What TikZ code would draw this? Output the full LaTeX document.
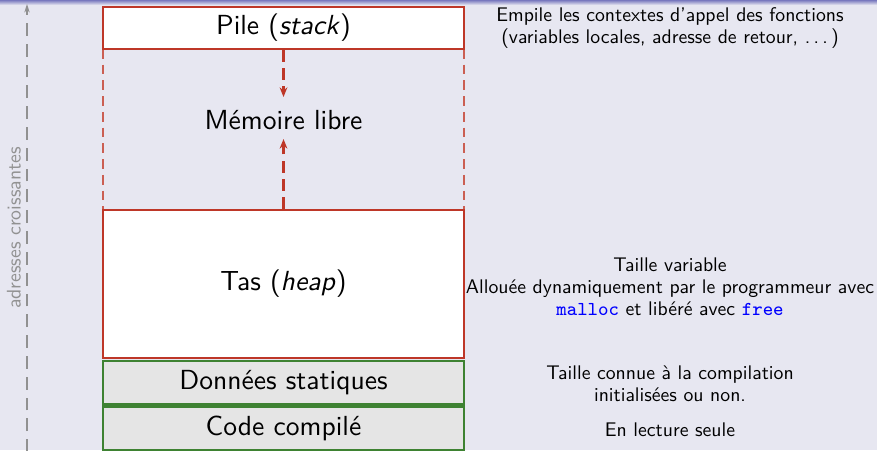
\documentclass[tikz,border=0pt]{standalone}
\usepackage{fontspec}
\setsansfont{lmsans10-regular}[Extension=.otf, ItalicFont=lmsans10-oblique, BoldFont=lmsans10-bold]
\usetikzlibrary{arrows.meta}
\definecolor{bgc}{RGB}{231,231,241}
\definecolor{redc}{RGB}{190,55,40}
\definecolor{greenc}{RGB}{62,130,50}
\definecolor{grayfill}{RGB}{229,229,229}
\definecolor{grayline}{RGB}{145,145,145}
\definecolor{topc}{RGB}{120,120,190}
\newcommand\mydots{.\kern\fontdimen3\font.\kern\fontdimen3\font.\kern\fontdimen3\font}
\tikzset{
  big/.style={font=\fontsize{11.4}{13.7}\selectfont\sffamily},
  small/.style={font=\fontsize{8.15}{9.1}\selectfont\sffamily, align=center},
  redbox/.style={draw=redc, line width=0.85pt, fill=white, minimum width=149.2pt, big, inner sep=0pt},
  greenbox/.style={draw=greenc, line width=0.85pt, fill=grayfill, minimum width=149.2pt, big, inner sep=0pt},
  growarrow/.style={draw=redc, line width=1.1pt, dash pattern=on 5pt off 2.5pt, -{Stealth[length=4pt,width=3.2pt]}},
  sidedash/.style={draw=redc!80, line width=0.45pt, dash pattern=on 4pt off 2.5pt},
}
\begin{document}
\begin{tikzpicture}[x=0.41322pt,y=-0.41322pt]
\fill[bgc] (0,0) rectangle (877,450);
\shade[top color=topc, bottom color=bgc] (0,0) rectangle (877,5);
\useasboundingbox (0,0) rectangle (877,450);
% left address arrow
\coordinate (abot) at (27,452);
\coordinate (atop) at (27,4);
\draw[grayline, line width=0.5pt, dash pattern=on 5.3pt off 3.3pt, -{Stealth[length=3.5pt,width=2.2pt]}] (abot) -- (atop);
\node[small, text=grayline, rotate=90] (addr) at (14,228) {adresses croissantes};
% side dashed lines
\coordinate (l1) at (103,49); \coordinate (l2) at (103,210);
\coordinate (r1) at (464,49); \coordinate (r2) at (464,210);
\draw[sidedash] (l1) -- (l2);
\draw[sidedash] (r1) -- (r2);
% boxes
\node[redbox, minimum height=17.4pt] (pile) at (283.5,28) {Pile (\textit{stack})};
\node[big] (mem) at (283.5,120) {Mémoire libre};
\node[redbox, minimum height=61.2pt] (tas) at (283.5,284) {Tas (\textit{heap})};
\node[greenbox, minimum height=17.8pt] (data) at (283.5,382.5) {Données statiques};
\node[greenbox, minimum height=17.8pt] (code) at (283.5,428) {Code compilé};
% growth arrows
\coordinate (dn) at (283.5,97);
\coordinate (up) at (283.5,139);
\draw[growarrow] (pile.south) -- (dn);
\draw[growarrow] (tas.north) -- (up);
% descriptions
\node[small] (d1) at (670,28) {Empile les contextes d'appel des fonctions\\(variables locales, adresse de retour, \mydots)};
\node[small] (d2) at (670,287) {Taille variable\\Allouée dynamiquement par le programmeur avec\\{\ttfamily\color{blue}malloc} et libéré avec {\ttfamily\color{blue}free}};
\node[small] (d3) at (670,384) {Taille connue à la compilation\\initialisées ou non.};
\node[small] (d4) at (670,430) {En lecture seule};
\end{tikzpicture}
\end{document}
